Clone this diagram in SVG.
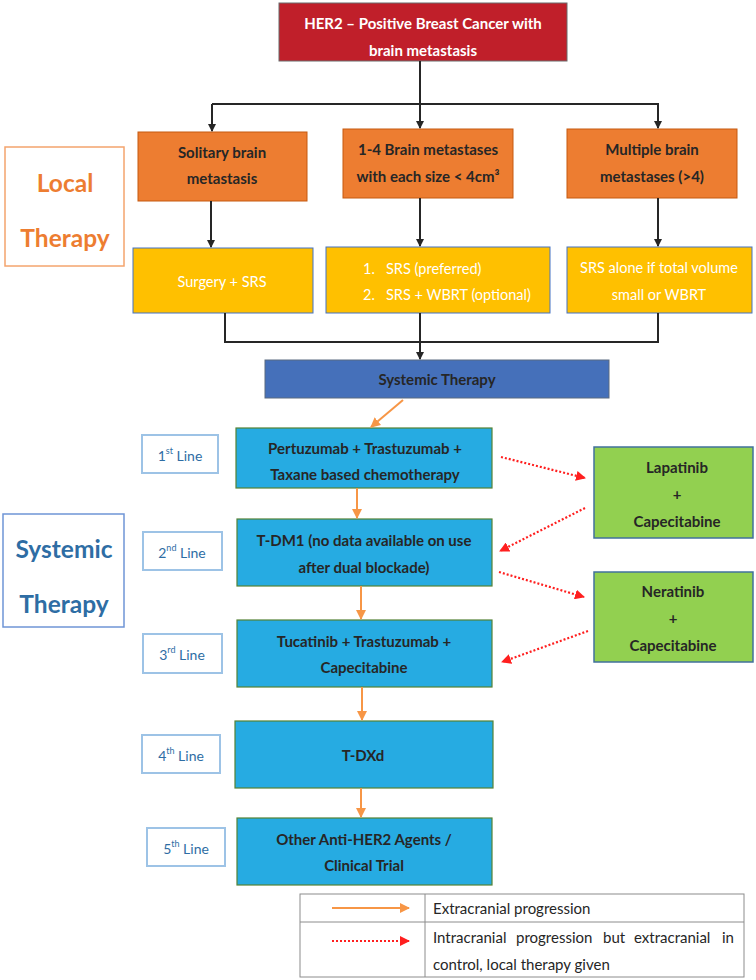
<svg xmlns="http://www.w3.org/2000/svg" width="756" height="980" viewBox="0 0 756 980">
<style>
text{font-family:Lato,"Liberation Sans",sans-serif;font-size:14px;text-anchor:middle;dominant-baseline:central}
.b{font-weight:bold;fill:#262626;font-size:15px}
.w{fill:#fff;font-size:14.5px}
.t{font-weight:bold;fill:#fff;font-size:15px}
.lbl{fill:#2E6DA4}
.big{font-size:24.5px;font-weight:bold}
.leg{fill:#262626;text-anchor:start;font-size:15px}
.red{fill:#C01F2A;stroke:#6B6B6B;stroke-width:1}
.org{fill:#ED7D31;stroke:#C55A11;stroke-width:1}
.yel{fill:#FFC000;stroke:#4472C4;stroke-width:1}
.cy{fill:#26ABE2;stroke:#548235;stroke-width:1.2}
.gr{fill:#92D050;stroke:#41719C;stroke-width:1.5}
.lb{fill:#fff;stroke:#9DC3E6;stroke-width:2}
.blk{stroke:#262626;stroke-width:2;fill:none}
.oa{stroke:#F79646;stroke-width:2;fill:none}
.ra{stroke:#FF1F1F;stroke-width:2.2;fill:none;stroke-dasharray:2 2}
</style>
<defs>
<marker id="ab" markerWidth="8" markerHeight="8" refX="7" refY="4" orient="auto" markerUnits="userSpaceOnUse"><path d="M0,0 L8,4 L0,8 z" fill="#262626"/></marker>
<marker id="ao" markerWidth="10" markerHeight="10" refX="9" refY="5" orient="auto" markerUnits="userSpaceOnUse"><path d="M0,0 L10,5 L0,10 z" fill="#F79646"/></marker>
<marker id="ar" markerWidth="10" markerHeight="10" refX="9" refY="5" orient="auto" markerUnits="userSpaceOnUse"><path d="M0,0 L10,5 L0,10 z" fill="#FF1F1F"/></marker>
</defs>

<g id="title">
<rect class="red" x="279" y="3" width="288" height="58"/>
<text class="t" x="423" y="23">HER2 – Positive Breast Cancer with</text>
<text class="t" x="423" y="50">brain metastasis</text>
</g>

<g id="local-label">
<rect x="5" y="147" width="119" height="119" fill="#fff" stroke="#F4A46E" stroke-width="1.5"/>
<text class="big" x="65" y="182" fill="#ED7D31">Local</text>
<text class="big" x="65" y="237" fill="#ED7D31">Therapy</text>
</g>

<g id="solitary">
<rect class="org" x="138" y="132" width="169" height="69"/>
<text class="b" x="222" y="152">Solitary brain</text>
<text class="b" x="222" y="178">metastasis</text>
</g>
<g id="one-four">
<rect class="org" x="343" y="129" width="170" height="69"/>
<text class="b" x="428" y="149">1-4 Brain metastases</text>
<text class="b" x="428" y="176">with each size &lt; 4cm³</text>
</g>
<g id="multiple">
<rect class="org" x="567" y="129" width="170" height="69"/>
<text class="b" x="652" y="149">Multiple brain</text>
<text class="b" x="652" y="176">metastases (&gt;4)</text>
</g>

<g id="surgery">
<rect class="yel" x="133" y="248" width="180" height="65"/>
<text class="w" x="222" y="281">Surgery + SRS</text>
</g>
<g id="srs">
<rect class="yel" x="326" y="247" width="224" height="66"/>
<text class="w" x="363" y="268" style="text-anchor:start">1.</text>
<text class="w" x="386" y="268" style="text-anchor:start">SRS (preferred)</text>
<text class="w" x="363" y="294" style="text-anchor:start">2.</text>
<text class="w" x="386" y="294" style="text-anchor:start">SRS + WBRT (optional)</text>
</g>
<g id="srs-alone">
<rect class="yel" x="567" y="247" width="185" height="66"/>
<text class="w" x="659" y="267">SRS alone if total volume</text>
<text class="w" x="659" y="294">small or WBRT</text>
</g>

<g id="systemic">
<rect x="265" y="360" width="344" height="38" fill="#4570BA" stroke="#5A6A80" stroke-width="1"/>
<text class="b" x="437" y="379">Systemic Therapy</text>
</g>

<g id="systemic-label">
<rect x="3" y="514" width="121" height="113" fill="#fff" stroke="#6F95D6" stroke-width="1.5"/>
<text class="big lbl" x="64" y="548">Systemic</text>
<text class="big lbl" x="64" y="603">Therapy</text>
</g>

<g id="line1">
<rect class="lb" x="142" y="435" width="76" height="38"/>
<text class="lbl" x="180" y="455">1<tspan font-size="9" dy="-5">st</tspan><tspan dy="5"> Line</tspan></text>
</g>
<g id="line2">
<rect class="lb" x="143" y="532" width="79" height="38"/>
<text class="lbl" x="182" y="552">2<tspan font-size="9" dy="-5">nd</tspan><tspan dy="5"> Line</tspan></text>
</g>
<g id="line3">
<rect class="lb" x="143" y="634" width="79" height="39"/>
<text class="lbl" x="182" y="654">3<tspan font-size="9" dy="-5">rd</tspan><tspan dy="5"> Line</tspan></text>
</g>
<g id="line4">
<rect class="lb" x="142" y="735" width="78" height="38"/>
<text class="lbl" x="181" y="755">4<tspan font-size="9" dy="-5">th</tspan><tspan dy="5"> Line</tspan></text>
</g>
<g id="line5">
<rect class="lb" x="147" y="828" width="78" height="38"/>
<text class="lbl" x="186" y="848">5<tspan font-size="9" dy="-5">th</tspan><tspan dy="5"> Line</tspan></text>
</g>

<g id="pertuzumab">
<rect class="cy" x="236" y="428" width="256" height="60"/>
<text class="b" x="365" y="448">Pertuzumab + Trastuzumab +</text>
<text class="b" x="365" y="474">Taxane based chemotherapy</text>
</g>
<g id="tdm1">
<rect class="cy" x="237" y="519" width="255" height="67"/>
<text class="b" x="364" y="540">T-DM1 (no data available on use</text>
<text class="b" x="364" y="567">after dual blockade)</text>
</g>
<g id="tucatinib">
<rect class="cy" x="237" y="620" width="255" height="67"/>
<text class="b" x="364" y="641">Tucatinib + Trastuzumab +</text>
<text class="b" x="364" y="667">Capecitabine</text>
</g>
<g id="tdxd">
<rect class="cy" x="235" y="721" width="258" height="67"/>
<text class="b" x="363" y="755">T-DXd</text>
</g>
<g id="other">
<rect class="cy" x="237" y="818" width="255" height="67"/>
<text class="b" x="364" y="839">Other Anti-HER2 Agents /</text>
<text class="b" x="364" y="865">Clinical Trial</text>
</g>

<g id="lapatinib">
<rect class="gr" x="594" y="447" width="159" height="91"/>
<text class="b" x="677" y="467">Lapatinib</text>
<text class="b" x="677" y="494">+</text>
<text class="b" x="677" y="521">Capecitabine</text>
</g>
<g id="neratinib">
<rect class="gr" x="594" y="572" width="159" height="90"/>
<text class="b" x="673" y="591">Neratinib</text>
<text class="b" x="673" y="618">+</text>
<text class="b" x="673" y="645">Capecitabine</text>
</g>

<g id="connectors">
<line class="blk" x1="420" y1="61" x2="420" y2="104"/>
<polyline class="blk" points="212,104 658,104 658,128" marker-end="url(#ab)"/>
<line class="blk" x1="212" y1="104" x2="212" y2="131" marker-end="url(#ab)"/>
<line class="blk" x1="420" y1="104" x2="420" y2="128" marker-end="url(#ab)"/>
<line class="blk" x1="211" y1="201" x2="211" y2="247" marker-end="url(#ab)"/>
<line class="blk" x1="420" y1="198" x2="420" y2="246" marker-end="url(#ab)"/>
<line class="blk" x1="658" y1="198" x2="658" y2="246" marker-end="url(#ab)"/>
<polyline class="blk" points="225,313 225,342 658,342 658,313"/>
<line class="blk" x1="420" y1="313" x2="420" y2="359" marker-end="url(#ab)"/>
<line class="oa" x1="403" y1="400" x2="371" y2="427" marker-end="url(#ao)"/>
<line class="oa" x1="357" y1="488" x2="357" y2="518" marker-end="url(#ao)"/>
<line class="oa" x1="361" y1="586" x2="361" y2="619" marker-end="url(#ao)"/>
<line class="oa" x1="362" y1="687" x2="362" y2="720" marker-end="url(#ao)"/>
<line class="oa" x1="361" y1="788" x2="361" y2="817" marker-end="url(#ao)"/>
<line class="ra" x1="501" y1="457" x2="585" y2="478" marker-end="url(#ar)"/>
<line class="ra" x1="585" y1="508" x2="500" y2="551" marker-end="url(#ar)"/>
<line class="ra" x1="499" y1="572" x2="584" y2="597" marker-end="url(#ar)"/>
<line class="ra" x1="588" y1="631" x2="502" y2="662" marker-end="url(#ar)"/>
</g>

<g id="legend">
<rect x="300" y="894" width="444" height="83" fill="#fff" stroke="#8C8C8C" stroke-width="1"/>
<line x1="300" y1="922" x2="744" y2="922" stroke="#8C8C8C" stroke-width="1"/>
<line x1="425" y1="894" x2="425" y2="977" stroke="#8C8C8C" stroke-width="1"/>
<line class="oa" x1="332" y1="908" x2="409" y2="908" marker-end="url(#ao)"/>
<line class="ra" x1="332" y1="941" x2="409" y2="941" marker-end="url(#ar)"/>
<text class="leg" x="433" y="908">Extracranial progression</text>
<text class="leg" x="433" y="937">Intracranial</text>
<text class="leg" x="516" y="937">progression</text>
<text class="leg" x="603" y="937">but</text>
<text class="leg" x="634" y="937">extracranial</text>
<text class="leg" x="722" y="937">in</text>
<text class="leg" x="433" y="964">control, local therapy given</text>
</g>
</svg>
